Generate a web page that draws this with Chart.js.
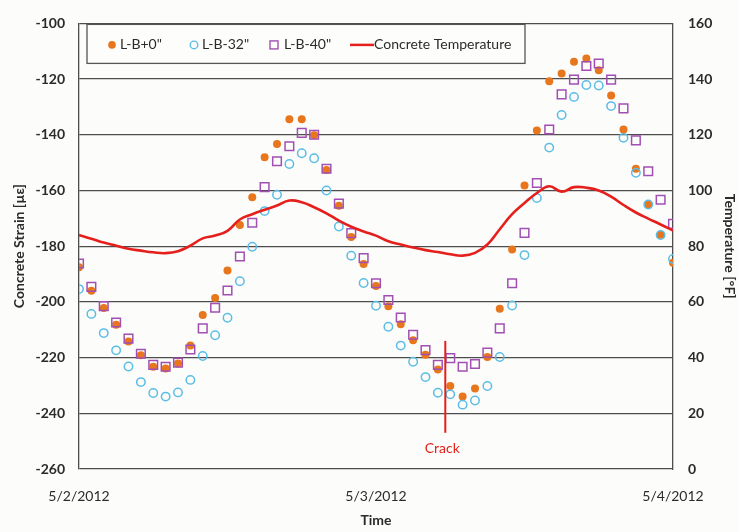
<!DOCTYPE html>
<html>
<head>
<meta charset="utf-8">
<title>Concrete Strain vs Time</title>
<script src="https://cdn.jsdelivr.net/npm/chart.js@4.4.1/dist/chart.umd.min.js"></script>
<style>
  html, body { margin: 0; padding: 0; background: #fcfcfa; }
  #wrap { width: 739px; height: 532px; position: relative; }
</style>
</head>
<body>
<div id="wrap"><canvas id="chart" width="739" height="532"></canvas></div>
<script>
// hourly readings, 5/2/2012 00:00 -> 5/4/2012 00:00
const hours = [0, 1, 2, 3, 4, 5, 6, 7, 8, 9, 10, 11, 12, 13, 14, 15, 16, 17, 18, 19, 20, 21, 22, 23, 24,
  25, 26, 27, 28, 29, 30, 31, 32, 33, 34, 35, 36, 37, 38, 39, 40, 41, 42, 43, 44, 45, 46, 47, 48];
const dateLabels = ['5/2/2012', '5/3/2012', '5/4/2012'];

const seriesNames = ['L-B+0"', 'L-B-32"', 'L-B-40"', 'Concrete Temperature'];

// concrete strain [µε]
const strainB0 = [-187.6, -196, -202.2, -208.2, -214.2, -219.2, -223.3, -223.9, -222.1, -215.7, -204.7, -198.6,
  -188.7, -172.4, -162.4, -148.1, -143.3, -134.4, -134.4, -140.2, -152.6, -165.5, -176.7, -186.4, -194.3,
  -201.6, -208, -213.8, -219, -224.3, -230.2, -234, -231.1, -219.8, -202.5, -181.2, -158.2, -138.5, -120.8,
  -118, -113.8, -112.6, -116.8, -125.9, -138.1, -152.2, -165, -175.9, -185.9];
const strainB32 = [-195.4, -204.3, -211.2, -217.4, -223.2, -228.8, -232.7, -234, -232.5, -228, -219.4, -212,
  -205.7, -192.6, -180.2, -167.4, -161.5, -150.5, -146.6, -148.4, -160, -172.9, -183.4, -193.2, -201.4,
  -208.9, -215.7, -221.5, -227, -232.6, -233.2, -236.9, -235.4, -230.2, -219.8, -201.3, -183.2, -162.7, -144.6,
  -132.9, -126.4, -122.1, -122.3, -129.7, -141.1, -153.6, -165, -176, -184.6];
const strainB40 = [-186.2, -194.6, -201.5, -207.4, -213.2, -218.6, -222.6, -223.3, -221.8, -217.1, -209.5, -202.1,
  -195.9, -183.7, -171.6, -158.8, -149.5, -144.1, -139.3, -140, -152.2, -164.7, -175.3, -184.3, -193.3,
  -199.3, -205.6, -211.8, -217.3, -222.6, -220.2, -223.3, -222.3, -218.2, -209.5, -193.3, -175.2, -157.3, -138.1,
  -125.5, -120.2, -115.3, -114.4, -120.2, -130.5, -142, -153.1, -163.3, -172];

// concrete temperature [°F]
const concreteTemp = [84, 82.7, 81.3, 80.2, 79.1, 78.4, 77.8, 77.5, 78.2, 80.2, 82.8, 83.8,
  85.5, 89.6, 91.5, 93.1, 94.6, 96.4, 95.8, 94, 91.8, 89.2, 87, 85.3, 83.8,
  81.8, 80.6, 79.5, 78.6, 77.9, 77.1, 76.6, 77.6, 80.6, 86.1, 91.5, 95.5, 99.1, 101.5,
  99.6, 101.2, 101, 100, 97.8, 94.8, 92.1, 89.9, 87.8, 85.6];

// crack marker (hour, strain range)
const crackHour = 29.6;
const crackFrom = -214;
const crackTo = -247;
const crackLabelAt = -252.8;

const FONT = 'Lato, "Open Sans", sans-serif';
const INK = '#2b2b2b';
const GRID = '#4d4d4d';

const COLORS = {
  b0: '#E8761C',
  b32: '#5BBDE6',
  b40: '#A14FB3',
  temp: '#E5201C'
};

const toXY = (vals) => hours.map((h, i) => ({ x: h, y: vals[i] }));

// draws the crack line + label through the chart scales
const crackPlugin = {
  id: 'crackMarker',
  afterDatasetsDraw(chart) {
    const { ctx, scales } = chart;
    const x = scales.x.getPixelForValue(crackHour);
    const y1 = scales.y.getPixelForValue(crackFrom);
    const y2 = scales.y.getPixelForValue(crackTo);
    ctx.save();
    ctx.strokeStyle = COLORS.temp;
    ctx.lineWidth = 2;
    ctx.beginPath();
    ctx.moveTo(x, y1);
    ctx.lineTo(x, y2);
    ctx.stroke();
    ctx.fillStyle = COLORS.temp;
    ctx.font = '14px ' + FONT;
    ctx.textAlign = 'center';
    ctx.textBaseline = 'middle';
    ctx.fillText('Crack', x - 3, scales.y.getPixelForValue(crackLabelAt));
    ctx.restore();
  }
};

// boxed legend inside the plot, like the original
const boxLegendPlugin = {
  id: 'boxLegend',
  afterDraw(chart) {
    const { ctx, chartArea } = chart;
    const left = chartArea.left + 8;
    const top = chartArea.top + 1;
    const w = 438, h = 39;
    const cy = top + h / 2 + 1;
    ctx.save();
    ctx.fillStyle = '#fdfdfc';
    ctx.fillRect(left, top, w, h);
    ctx.strokeStyle = '#555';
    ctx.lineWidth = 1.3;
    ctx.strokeRect(left, top, w, h);

    ctx.font = '14px ' + FONT;
    ctx.fillStyle = INK;
    ctx.textBaseline = 'middle';
    ctx.textAlign = 'left';

    // L-B+0"
    let x = left + 25;
    ctx.beginPath();
    ctx.arc(x, cy, 3.8, 0, Math.PI * 2);
    ctx.fillStyle = COLORS.b0;
    ctx.fill();
    ctx.fillStyle = INK;
    ctx.fillText(seriesNames[0], x + 8, cy);

    // L-B-32"
    x = left + 107;
    ctx.beginPath();
    ctx.arc(x, cy, 3.8, 0, Math.PI * 2);
    ctx.strokeStyle = COLORS.b32;
    ctx.lineWidth = 1.4;
    ctx.stroke();
    ctx.fillText(seriesNames[1], x + 8, cy);

    // L-B-40"
    x = left + 187;
    ctx.strokeStyle = COLORS.b40;
    ctx.lineWidth = 1.4;
    ctx.strokeRect(x - 4, cy - 4, 8, 8);
    ctx.fillText(seriesNames[2], x + 10, cy);

    // Concrete Temperature
    x = left + 263;
    ctx.strokeStyle = COLORS.temp;
    ctx.lineWidth = 2.5;
    ctx.beginPath();
    ctx.moveTo(x, cy);
    ctx.lineTo(x + 24, cy);
    ctx.stroke();
    ctx.fillText(seriesNames[3], x + 24, cy);
    ctx.restore();
  }
};

const ctx = document.getElementById('chart').getContext('2d');
new Chart(ctx, {
  type: 'scatter',
  data: {
    datasets: [
      {
        label: seriesNames[0],
        data: toXY(strainB0),
        yAxisID: 'y',
        pointStyle: 'circle',
        pointRadius: 4,
        backgroundColor: COLORS.b0,
        borderColor: COLORS.b0,
        borderWidth: 0,
        order: 3
      },
      {
        label: seriesNames[1],
        data: toXY(strainB32),
        yAxisID: 'y',
        pointStyle: 'circle',
        pointRadius: 4.2,
        backgroundColor: 'rgba(0,0,0,0)',
        borderColor: COLORS.b32,
        borderWidth: 1.5,
        order: 2
      },
      {
        label: seriesNames[2],
        data: toXY(strainB40),
        yAxisID: 'y',
        pointStyle: 'rect',
        pointRadius: 6.1,
        backgroundColor: 'rgba(0,0,0,0)',
        borderColor: COLORS.b40,
        borderWidth: 1.5,
        order: 1
      },
      {
        type: 'line',
        label: seriesNames[3],
        data: toXY(concreteTemp),
        yAxisID: 'y2',
        showLine: true,
        borderColor: COLORS.temp,
        borderWidth: 2.6,
        pointRadius: 0,
        tension: 0.45,
        fill: false,
        order: 0
      }
    ]
  },
  options: {
    responsive: false,
    animation: false,
    devicePixelRatio: 1,
    layout: { padding: { top: 13, left: 0, right: 0, bottom: 0 } },
    plugins: {
      legend: { display: false },
      tooltip: { enabled: false }
    },
    scales: {
      x: {
        type: 'linear',
        min: 0,
        max: 48,
        afterFit(scale) { scale.height = 63; },
        grid: { display: false },
        border: { display: false },
        ticks: {
          stepSize: 24,
          padding: 11,
          color: INK,
          font: { family: FONT, size: 14 },
          callback: (v) => dateLabels[v / 24] ?? ''
        },
        title: {
          display: true,
          text: 'Time',
          color: INK,
          font: { family: FONT, size: 14, weight: 'bold' },
          padding: { top: 0, bottom: 3 }
        }
      },
      y: {
        position: 'left',
        min: -260,
        max: -100,
        afterFit(scale) { scale.width = 79; },
        grid: { color: GRID, lineWidth: 1.3, drawTicks: false },
        border: { display: true, color: GRID, width: 1.3 },
        ticks: {
          stepSize: 20,
          padding: 14,
          color: INK,
          font: { family: FONT, size: 14, weight: 'bold' }
        },
        title: {
          display: true,
          text: 'Concrete Strain [µε]',
          color: INK,
          font: { family: FONT, size: 14, weight: 'bold' },
          padding: { top: 11, bottom: 0 }
        }
      },
      y2: {
        position: 'right',
        min: 0,
        max: 160,
        afterFit(scale) { scale.width = 66; },
        grid: { display: false, drawTicks: false },
        border: { display: true, color: GRID, width: 1.3 },
        ticks: {
          stepSize: 20,
          padding: 15,
          color: INK,
          font: { family: FONT, size: 14, weight: 'bold' }
        },
        title: {
          display: true,
          text: 'Temperature [°F]',
          color: INK,
          font: { family: FONT, size: 14, weight: 'bold' },
          padding: { top: 1, bottom: 0 }
        }
      }
    }
  },
  plugins: [crackPlugin, boxLegendPlugin]
});
</script>
</body>
</html>
